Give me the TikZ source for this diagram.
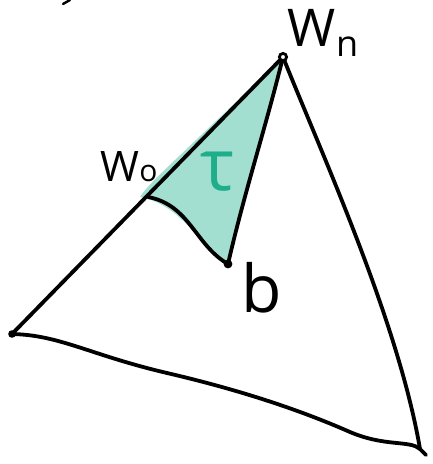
\documentclass[tikz,border=0pt]{standalone}
\usepackage{fontspec}
\setmainfont{Open Sans}
\definecolor{taufill}{HTML}{A2DFD1}
\definecolor{taucol}{HTML}{1FAE8A}
\begin{document}
\begin{tikzpicture}[x=1pt,y=-1pt,
  edge/.style={line width=3.8pt,line cap=round,line join=round},
  lbl/.style={inner sep=0pt}]
\useasboundingbox (0,0) rectangle (433,464);
\coordinate (wn) at (283,57);
\coordinate (L) at (12,334);
\coordinate (R) at (420,449);
\coordinate (b) at (228,264);
\coordinate (w0) at (147,195);
% shaded triangle tau
\fill[taufill] (140,197) .. controls (150,182) and (160,175) .. (wn)
  .. controls (262,140) and (245,200) .. (b)
  .. controls (205,255) and (185,205) .. (140,197) -- cycle;
% outer triangle
\draw[edge] (L) -- (wn);
\draw[edge] (wn) .. controls (320,150) and (398,320) .. (R);
\draw[edge] (L) .. controls (60,335) and (90,355) .. (167,373)
  .. controls (240,390) and (300,410) .. (350,432)
  .. controls (385,447) and (410,440) .. (R);
\draw[edge] (R) -- (426,455);
% inner lines
\draw[edge] (wn) .. controls (265,130) and (245,190) .. (b);
\draw[edge] (148,197) .. controls (190,205) and (195,245) .. (b);
% points
\fill (L) circle (3.8);
\fill (b) circle (4.4);
\draw[line width=2.8pt,fill=white] (wn) circle (3.6);
% stray mark
\draw[line width=2.4pt,line cap=round] (63,4) -- (70,0);
% labels
\node[lbl,font=\fontsize{52}{52}\selectfont] (lwn) at (323,33) {W\raisebox{-0.35ex}{\fontsize{36}{36}\selectfont n}};
\node[lbl,font=\fontsize{42}{42}\selectfont] (lw0) at (129,167) {W\fontsize{30}{30}\selectfont o};
\node[lbl,font=\fontsize{66}{66}\selectfont] (lb) at (262,288) {b};
\node[lbl,text=taucol,font=\fontsize{72}{72}\selectfont] (ltau) at (218,172) {τ};
\end{tikzpicture}
\end{document}
